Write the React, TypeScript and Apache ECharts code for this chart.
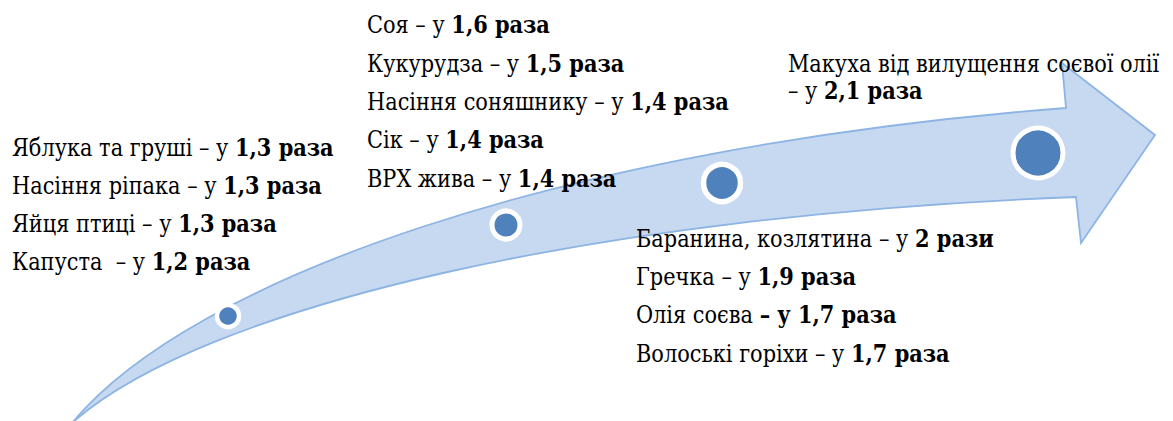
import React, { useEffect, useRef } from "react";
import * as echarts from "echarts";

const W = 1173;
const H = 421;

// ---- data ----
const stage1Lines: [string, string][] = [
  ["Яблука та груші – у ", "1,3 раза"],
  ["Насіння ріпака – у ", "1,3 раза"],
  ["Яйця птиці – у ", "1,3 раза"],
  ["Капуста  – у ", "1,2 раза"],
];
const stage2Lines: [string, string][] = [
  ["Соя – у ", "1,6 раза"],
  ["Кукурудза – у ", "1,5 раза"],
  ["Насіння соняшнику – у ", "1,4 раза"],
  ["Сік – у ", "1,4 раза"],
  ["ВРХ жива – у ", "1,4 раза"],
];
const stage3Lines: [string, string][] = [
  ["Баранина, козлятина – у ", "2 рази"],
  ["Гречка – у ", "1,9 раза"],
  ["Олія соєва ", "– у 1,7 раза"],
  ["Волоські горіхи – у ", "1,7 раза"],
];
const stage4Lines: [string, string][] = [
  ["Макуха від вилущення соєвої олії", ""],
  ["– у ", "2,1 раза"],
];

// stage markers along the arrow
const stageX = [228, 506, 722, 1038];
const stageY = [316, 225, 183, 153];
const stageSize = [22, 28, 37, 50];
const stageBorder = [4.5, 5, 5.5, 5];

const ARROW_D =
  "M72,423 C190,280 560,147 1066,108 L1062,63 L1155,135 L1081,243 L1076,197 C600,215 205,305 72,423 Z";

const FAMILY = "DejaVu Serif";
const FS = 24;
const SX = 0.87;

let measureCtx: CanvasRenderingContext2D | null = null;
function measure(s: string, bold: boolean) {
  if (!measureCtx) measureCtx = document.createElement("canvas").getContext("2d");
  if (!measureCtx) return s.length * FS * 0.5 * SX;
  measureCtx.font = `${bold ? "bold " : ""}${FS}px "${FAMILY}"`;
  return measureCtx.measureText(s).width * SX;
}

function textBlock(lines: [string, string][], x: number, ys: number[]) {
  const out: any[] = [];
  lines.forEach((ln, i) => {
    if (ln[0]) {
      out.push({
        type: "text",
        x,
        y: ys[i],
        scaleX: SX,
        z: 100,
        style: {
          text: ln[0],
          verticalAlign: "middle",
          align: "left",
          fontFamily: FAMILY,
          fontSize: FS,
          fontWeight: "normal",
          fill: "#000",
        },
      });
    }
    if (ln[1]) {
      out.push({
        type: "text",
        x: x + measure(ln[0], false),
        y: ys[i],
        scaleX: SX,
        z: 100,
        style: {
          text: ln[1],
          verticalAlign: "middle",
          align: "left",
          fontFamily: FAMILY,
          fontSize: FS,
          fontWeight: "bold",
          fill: "#000",
        },
      });
    }
  });
  return out;
}

export default function App() {
  const ref = useRef<HTMLDivElement>(null);
  useEffect(() => {
    if (!ref.current) return;
    echarts.graphic.registerShape("curvedArrow", echarts.graphic.extendPath(ARROW_D, {}));
    const chart = echarts.init(ref.current, null, { renderer: "svg" });
    chart.setOption({
      animation: false,
      backgroundColor: "#fff",
      grid: { left: 0, right: 0, top: 0, bottom: 0 },
      xAxis: { type: "value", min: 0, max: W, show: false },
      yAxis: { type: "value", min: 0, max: H, inverse: true, show: false },
      series: [
        {
          type: "scatter",
          z: 5,
          data: stageX.map((x, i) => ({
            value: [x, stageY[i]],
            symbolSize: stageSize[i],
            itemStyle: { borderWidth: stageBorder[i] },
          })),
          itemStyle: { color: "#4f81bd", borderColor: "#ffffff", opacity: 1 },
          emphasis: { disabled: true },
        },
      ],
      graphic: [
        {
          type: "curvedArrow",
          x: 0,
          y: 0,
          z: 0,
          style: { fill: "#c6d9f1", stroke: "#8db4e3", lineWidth: 1.8 },
        },
        ...textBlock(stage1Lines, 12, [147, 185, 223, 261]),
        ...textBlock(stage2Lines, 367, [24, 63, 101, 139, 178]),
        ...textBlock(stage3Lines, 636, [238, 276, 314, 353]),
        ...textBlock(stage4Lines, 788, [63, 90]),
      ],
    });
    return () => chart.dispose();
  }, []);
  return (
    <div
      ref={ref}
      style={{ position: "absolute", left: 0, top: 0, width: W, height: H }}
    />
  );
}
